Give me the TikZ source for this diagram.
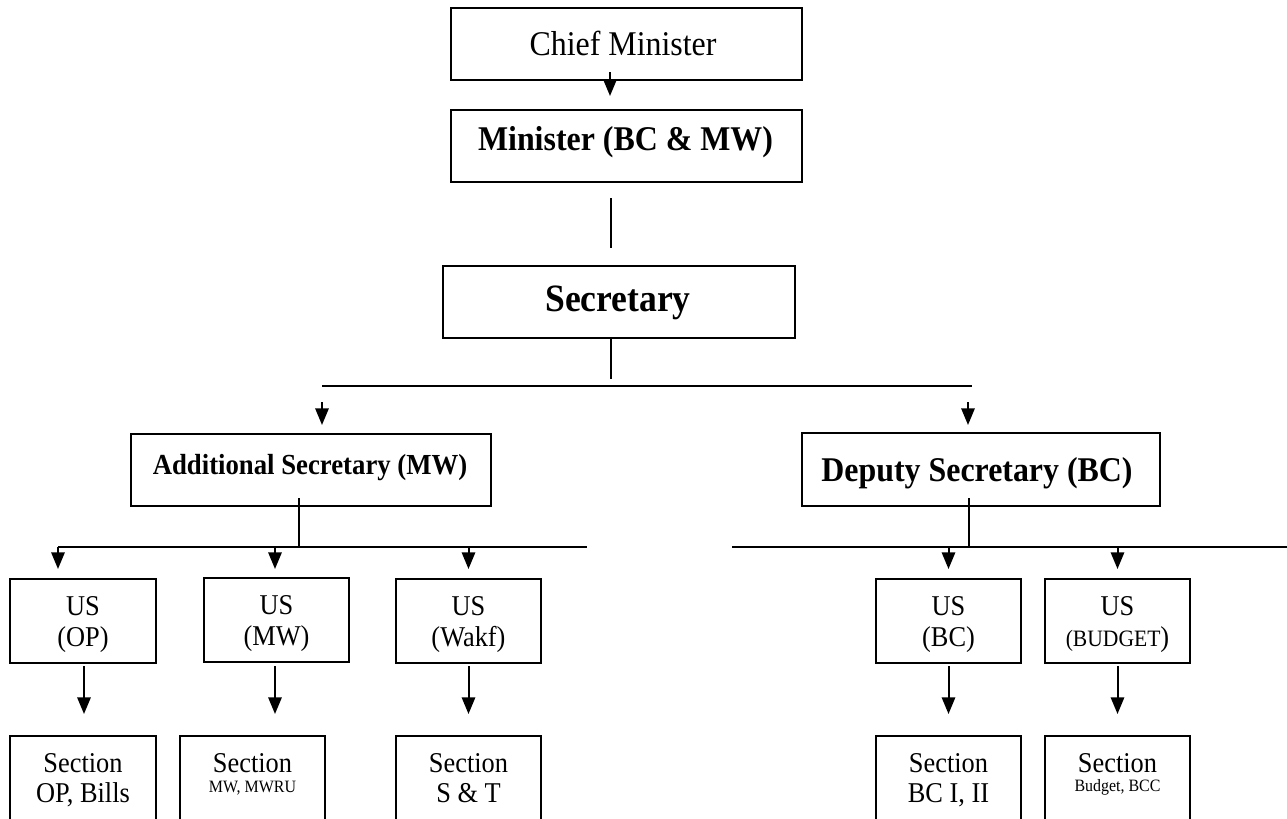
\documentclass[tikz,border=0pt]{standalone}
\usepackage{fontspec}
\setmainfont{Liberation Serif}[FakeStretch=0.92]
\usetikzlibrary{arrows.meta,calc}
\tikzset{
  box/.style={draw, line width=1.5pt, inner sep=0pt, outer sep=0pt},
  wh/.style 2 args={minimum width=#1*0.75pt, minimum height=#2*0.75pt},
  lbl/.style={anchor=base, inner sep=0pt, outer sep=0pt},
  ln/.style={line width=1.5pt},
  arr/.style={line width=1.5pt, -{Triangle[length=12.5pt,width=10pt]}},
  fA/.style={font=\fontsize{26}{28}\selectfont},
  fB/.style={font=\bfseries\fontsize{26}{28}\selectfont},
  fS/.style={font=\bfseries\fontsize{29}{31}\selectfont},
  fAd/.style={font=\bfseries\fontsize{21.8}{24}\selectfont},
  fU/.style={font=\fontsize{21.5}{23}\selectfont},
  fsm/.style={font=\fontsize{13}{14}\selectfont},
}
\begin{document}
\begin{tikzpicture}[x=0.75pt,y=-0.75pt]
\useasboundingbox (0,0) rectangle (1287,818);
\clip (0,0) rectangle (1287,818);

% top chain
\node[box, wh={351}{72}] (chief) at (626.5,44) {};
\node[lbl, fA] (chiefT) at (623,55) {Chief Minister};
\node[box, wh={351}{72}] (minister) at (626.5,146) {};
\node[lbl, fB] (ministerT) at (625.5,150) {Minister (BC \& MW)};
\node[box, wh={352}{72}] (secy) at (619,302) {};
\node[lbl, fS] (secyT) at (618,311) {Secretary};

% second level
\node[box, wh={360}{72}] (addl) at (311,470) {};
\node[lbl, fAd] (addlT) at (310,474) {Additional Secretary (MW)};
\node[box, wh={358}{73}] (dep) at (981,469.5) {};
\node[lbl, fB] (depT) at (977,481) {Deputy Secretary (BC)};

% US boxes
\node[box, wh={146}{84}] (usop) at (83,621) {};
\node[lbl, fU] (usopA) at (83,615) {US};
\node[lbl, fU] (usopB) at (83,646) {(OP)};
\node[box, wh={145}{84}] (usmw) at (276.5,620) {};
\node[lbl, fU] (usmwA) at (276.5,614) {US};
\node[lbl, fU] (usmwB) at (276.5,645) {(MW)};
\node[box, wh={145}{84}] (uswakf) at (468.5,621) {};
\node[lbl, fU] (uswakfA) at (468.5,615) {US};
\node[lbl, fU] (uswakfB) at (468.5,646) {(Wakf)};
\node[box, wh={145}{84}] (usbc) at (948.5,621) {};
\node[lbl, fU] (usbcA) at (948.5,615) {US};
\node[lbl, fU] (usbcB) at (948.5,646) {(BC)};
\node[box, wh={145}{84}] (usbud) at (1117.5,621) {};
\node[lbl, fU] (usbudA) at (1117.5,615) {US};
\node[lbl, fU] (usbudB) at (1117.5,646) {{\fontsize{17.6}{19}\selectfont(BUDGET})};

% Section boxes
\node[box, wh={146}{100}] (secop) at (83,786) {};
\node[lbl, fU] (secopA) at (83,772) {Section};
\node[lbl, fU] (secopB) at (83,802) {OP, Bills};
\node[box, wh={145}{100}] (secmw) at (252.5,786) {};
\node[lbl, fU] (secmwA) at (252.5,772) {Section};
\node[lbl, fsm] (secmwB) at (252.5,792) {MW, MWRU};
\node[box, wh={145}{100}] (secst) at (468.5,786) {};
\node[lbl, fU] (secstA) at (468.5,772) {Section};
\node[lbl, fU] (secstB) at (468.5,802) {S \& T};
\node[box, wh={145}{100}] (secbc) at (948.5,786) {};
\node[lbl, fU] (secbcA) at (948.5,772) {Section};
\node[lbl, fU] (secbcB) at (948.5,802) {BC I, II};
\node[box, wh={145}{100}] (secbud) at (1117.5,786) {};
\node[lbl, fU] (secbudA) at (1117.5,772) {Section};
\node[lbl, fsm] (secbudB) at (1117.5,791) {Budget, BCC};

% bus coordinates
\coordinate (tbL) at (322,386);
\coordinate (tbR) at (972,386);
\coordinate (lbL) at (58,547);
\coordinate (lbR) at (587,547);
\coordinate (rbL) at (732,547);
\coordinate (rbR) at (1290,547);

% connectors
\draw[arr] ($(chief.south)+(-16.5,-8)$) -- ($(minister.north)+(-16.5,-14)$);
\draw[ln] ($(minister.south)+(-15.5,16)$) -- ($(secy.north)+(-8,-18)$);
\draw[ln] ($(secy.south)+(-8,0)$) -- ($(secy.south)+(-8,41)$);
\draw[ln] (tbL) -- (tbR);
\draw[arr] ($(tbL)+(0,16)$) -- ($(addl.north -| tbL)+(0,-9)$);
\draw[arr] ($(tbR)+(-4,16)$) -- ($(dep.north -| tbR)+(-4,-8)$);

\draw[ln] ($(addl.south)+(-12,-8)$) -- ($(addl.south)+(-12,41)$);
\draw[ln] (lbL) -- (lbR);
\draw[arr] (lbL) -- ($(usop.north -| lbL)+(0,-10)$);
\draw[arr] ($(lbL -| usmw.north)+(-1.5,0)$) -- ($(usmw.north)+(-1.5,-9)$);
\draw[arr] (lbL -| uswakf.north) -- ($(uswakf.north)+(0,-10)$);

\draw[ln] ($(dep.south)+(-12,-8)$) -- ($(dep.south)+(-12,41)$);
\draw[ln] (rbL) -- (rbR);
\draw[arr] (rbL -| usbc.north) -- ($(usbc.north)+(0,-10)$);
\draw[arr] (rbL -| usbud.north) -- ($(usbud.north)+(0,-10)$);

\draw[arr] ($(usop.south)+(1,3)$) -- ($(secop.north)+(1,-22)$);
\draw[arr] ($(usmw.south)+(-1.5,4)$) -- ($(secmw.north -| usmw.south)+(-1.5,-22)$);
\draw[arr] ($(uswakf.south)+(0,3)$) -- ($(secst.north)+(0,-22)$);
\draw[arr] ($(usbc.south)+(0,3)$) -- ($(secbc.north)+(0,-22)$);
\draw[arr] ($(usbud.south)+(0,3)$) -- ($(secbud.north)+(0,-22)$);
\end{tikzpicture}
\end{document}
